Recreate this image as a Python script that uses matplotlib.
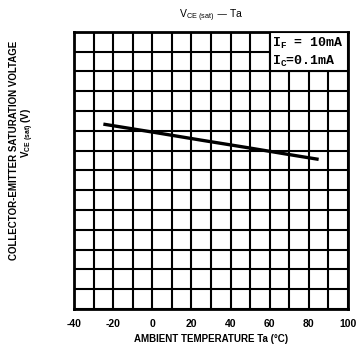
import numpy as np
import matplotlib.pyplot as plt
from matplotlib.patches import Rectangle

# data (grid units on y, 0.1 per division)
ta = [-25, 0, 25, 50, 75, 85]
vce = [0.934, 0.894, 0.853, 0.813, 0.772, 0.756]
xticks = [-40, -20, 0, 20, 40, 60, 80, 100]

plt.rcParams['font.family'] = ['Liberation Sans', 'DejaVu Sans']

fig = plt.figure(figsize=(3.61, 3.54), dpi=100)
ax = fig.add_axes([0.205, 0.127, 0.759, 0.783])

ax.set_xlim(-40, 100)
ax.set_ylim(0, 1.4)
ax.set_xticks(np.arange(-40, 101, 10))
ax.set_yticks(np.arange(0, 1.41, 0.1))
ax.set_xticklabels([str(v) if v in xticks else '' for v in range(-40, 101, 10)],
                   fontsize=7.5, fontweight='bold')
ax.set_yticklabels([])
ax.tick_params(length=0, pad=7)
ax.grid(True, color='black', linewidth=1.5)
for s in ax.spines.values():
    s.set_linewidth(2)

ax.plot(ta, vce, color='black', linewidth=2.4, solid_capstyle='butt', zorder=3)

# condition box in upper right
ax.add_patch(Rectangle((60, 1.2), 40, 0.2, facecolor='white', edgecolor='black',
                       linewidth=1.5, zorder=4))
ax.text(61.2, 1.34, r'I$_\mathregular{F}$ = 10mA', family='Liberation Mono',
        fontsize=9.5, fontweight='bold', va='center', ha='left', zorder=5)
ax.text(61.2, 1.25, r'I$_\mathregular{C}$=0.1mA', family='Liberation Mono',
        fontsize=9.5, fontweight='bold', va='center', ha='left', zorder=5)

ax.set_title(r'V$_\mathregular{CE\ (sat)}$ — Ta', fontsize=7.5, pad=10)
ax.set_xlabel('AMBIENT TEMPERATURE Ta (°C)', fontsize=7, fontweight='bold', labelpad=4)

fig.text(0.039, 0.576, 'COLLECTOR-EMITTER SATURATION VOLTAGE', rotation=90,
         fontsize=7, fontweight='bold', ha='center', va='center')
fig.text(0.078, 0.624, r'V$_\mathregular{CE\ (sat)}$ (V)', rotation=90,
         fontsize=7, fontweight='bold', ha='center', va='center')

fig.savefig('out.png', dpi=100)
